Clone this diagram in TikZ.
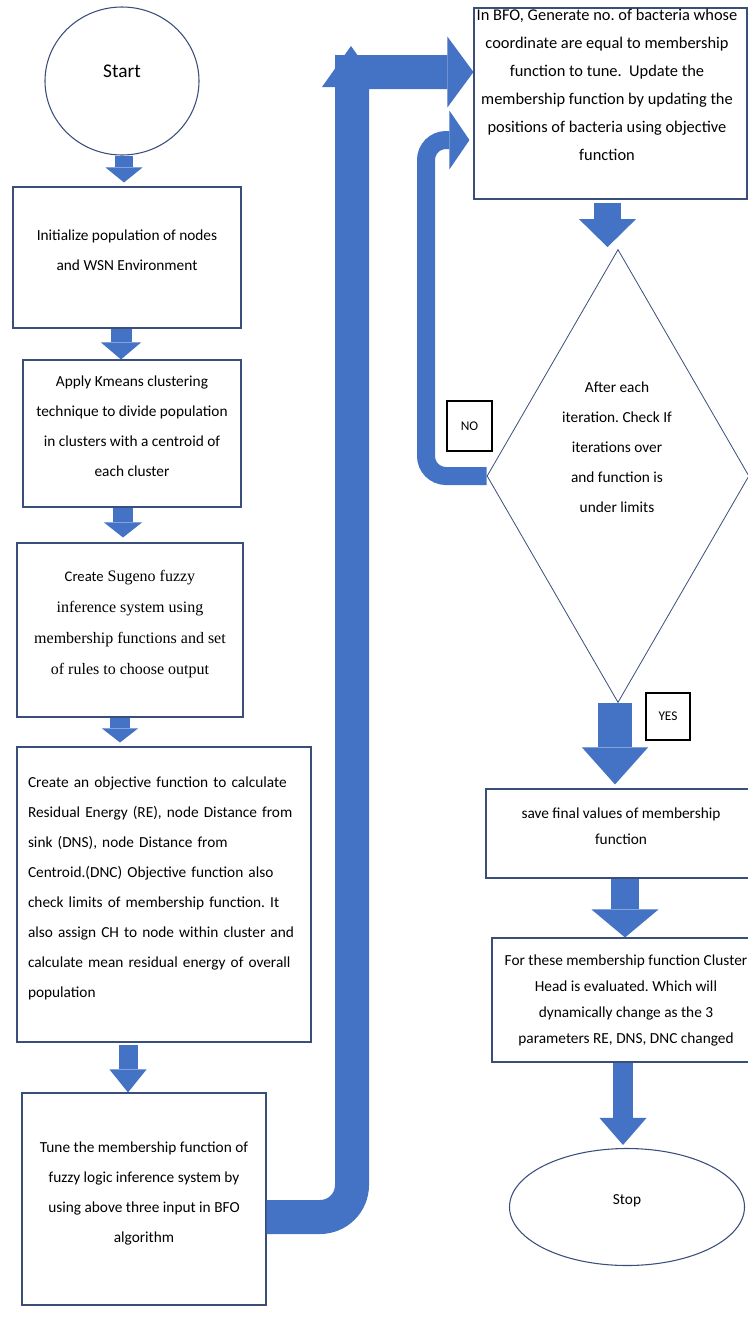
\documentclass[tikz,border=0pt]{standalone}
\usepackage{fontspec}
\setmainfont{Carlito}
\newfontfamily\timesfont{Liberation Serif}
\usepackage{xcolor}
\usetikzlibrary{arrows.meta,shapes.geometric,positioning,calc}

\definecolor{flowblue}{HTML}{4472C4}
\definecolor{boxline}{HTML}{3A4E7C}

% extra depth under the last line, lifts the text a little in its box
\newcommand{\stepdepth}{\rule[-11pt]{0pt}{11pt}}

\begin{document}
\frenchspacing
\begin{tikzpicture}[x=0.75pt, y=-0.75pt,
	stepbox/.style={draw=boxline, line width=0.8pt, fill=white, inner sep=0pt, align=center,
		font=\fontsize{11.5}{22}\selectfont},
	steptext/.style={align=center, inner sep=0pt},
	tag/.style={draw=black, line width=0.8pt, fill=white, inner sep=0pt, font=\fontsize{10}{12}\selectfont},
	flow/.style n args={3}{draw=flowblue, line width=#1, -{Triangle[width=#2, length=#3, line width=0pt]}}]

	\useasboundingbox (0,0) rectangle (748,1336);

	% left column
	\node[stepbox, ellipse, minimum width=115.5pt, minimum height=111pt, font=\fontsize{14.5}{17}\selectfont] (start) at (122,81)
		{Start\rule[-14pt]{0pt}{14pt}};
	\node[stepbox, minimum width=171pt, minimum height=105.75pt] (init) at (127,257.5)
		{Initialize population of nodes\\and WSN Environment\stepdepth};
	\node[stepbox, minimum width=163.5pt, minimum height=110.25pt, font=\fontsize{11.5}{22.5}\selectfont] (kmeans) at (132,433.5)
		{Apply Kmeans clustering\\technique to divide population\\in clusters with a centroid of\\each cluster\stepdepth};
	\node[stepbox, minimum width=169.5pt, minimum height=130.5pt, font=\fontsize{12}{23.2}\timesfont] (sugeno) at (130,630)
		{{\fontsize{11}{13}\rmfamily Create} Sugeno fuzzy\\inference system using\\membership functions and set\\of rules to choose output\stepdepth};
	\node[stepbox, minimum width=220.5pt, minimum height=221.25pt, text width=204pt, align=left, inner xsep=8.25pt,
		font=\fontsize{11.5}{22.5}\selectfont] (objfun) at (164,894.5)
		{Create an objective function to calculate\\Residual Energy (RE), node Distance from\\sink (DNS), node Distance from\\Centroid.(DNC) Objective function also\\check limits of membership function. It\\also assign CH to node within cluster and\\calculate mean residual energy of overall\\population\stepdepth};
	\node[stepbox, minimum width=183pt, minimum height=159pt, font=\fontsize{11.5}{22.5}\selectfont] (tune) at (144,1199)
		{Tune the membership function of\\fuzzy logic inference system by\\using above three input in BFO\\algorithm\stepdepth};

	% right column
	\node[stepbox, minimum width=204.75pt, minimum height=143.25pt] (bfo) at (610.5,103.5) {};
	\node[steptext, font=\fontsize{12.3}{21}\selectfont] (bfo-txt) at (607,85)
		{In BFO, Generate no. of bacteria whose\\coordinate are equal to membership\\function to tune.\ \ Update the\\membership function by updating the\\positions of bacteria using objective\\function};
	\node[stepbox, diamond, line width=0.6pt, minimum width=196.5pt, minimum height=339.75pt] (check) at (618,476) {};
	\node[steptext, font=\fontsize{11.5}{22.5}\selectfont] (check-txt) at (617,447)
		{After each\\iteration. Check If\\iterations over\\and function is\\under limits};
	\node[stepbox, minimum width=202.5pt, minimum height=66.75pt, font=\fontsize{11.5}{19.5}\selectfont] (save) at (621,833.5)
		{save final values of membership\\function\stepdepth};
	\node[stepbox, minimum width=201pt, minimum height=93pt, font=\fontsize{11.5}{19.5}\selectfont] (head) at (626,1000)
		{For these membership function Cluster\\Head is evaluated. Which will\\dynamically change as the 3\\parameters RE, DNS, DNC changed};
	\node[stepbox, ellipse, minimum width=176.25pt, minimum height=87.75pt] (stop) at (627,1207) {Stop\stepdepth};

	% straight arrows
	\coordinate (a1) at ($(start.south)+(2,0)$);
	\coordinate (a2) at ($(init.south)+(-6,0)$);
	\coordinate (a3) at ($(kmeans.south)+(-9,0)$);
	\coordinate (a4) at ($(sugeno.south)+(-10,0)$);
	\coordinate (a5) at (128,1045);
	\coordinate (a6) at ($(bfo.south)+(-3,3)$);
	\coordinate (a7) at ($(check.south)+(-3,0)$);
	\coordinate (a8) at ($(save.south)+(4,0)$);
	\coordinate (a9) at ($(head.south)+(-3,0)$);
	\draw[flow={13.5pt}{27.75pt}{11.25pt}] (a1) -- ($(a1 |- init.north)+(0,-4)$);
	\draw[flow={15.75pt}{30pt}{12.75pt}] (a2) -- (a2 |- kmeans.north);
	\draw[flow={15pt}{28.5pt}{11.25pt}] (a3) -- ($(a3 |- sugeno.north)+(0,-5)$);
	\draw[flow={15pt}{27pt}{10.5pt}] (a4) -- ($(a4 |- objfun.north)+(0,-4)$);
	\draw[flow={14.25pt}{27.75pt}{17.25pt}] (a5) -- (a5 |- tune.north);
	\draw[flow={20.25pt}{42.75pt}{21pt}] (a6) -- ($(a6 |- check.north)+(0,-2)$);
	\draw[flow={25.5pt}{49.5pt}{27.75pt}] (a7) -- ($(a7 |- save.north)+(0,-4)$);
	\draw[flow={21pt}{50.25pt}{21pt}] (a8) -- (a8 |- head.north);
	\draw[flow={15pt}{35.25pt}{20.25pt}] (a9) -- ($(a9 |- stop.north)+(0,-3)$);

	% bent arrows
	\fill[flowblue] (322,87) -- (351,46) -- (380,87) -- cycle;
	\coordinate (bend) at (352,72);
	\draw[flow={25.5pt}{53pt}{19.5pt}] ([yshift=-13.5pt]tune.east) [rounded corners=24pt] -- (bend |- 0,1217)
		[sharp corners] -- (bend) -- ([yshift=23.6pt]bfo.west);
	\coordinate (loop) at (426,140);
	\draw[flow={13.5pt}{44pt}{15pt}, rounded corners=15pt] (check.west) -| (loop) -- ([xshift=-3pt, yshift=-27.4pt]bfo.west);

	% branch labels
	\node[tag, minimum width=33.75pt, minimum height=37.5pt] (no) at (469.5,426) {NO};
	\node[tag, minimum width=33pt, minimum height=35.25pt] (yes) at (668,716.5) {YES};
\end{tikzpicture}
\end{document}
